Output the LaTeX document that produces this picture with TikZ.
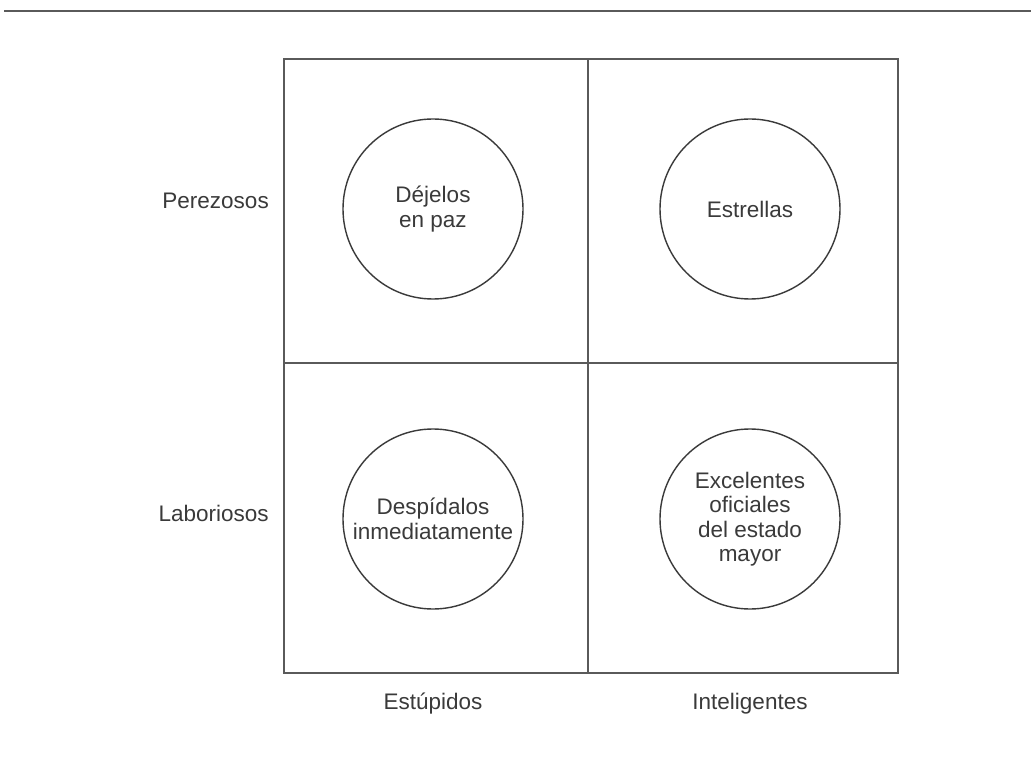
\documentclass[tikz,border=0pt]{standalone}
\usepackage{fontspec}
\setmainfont{Liberation Sans}
\usetikzlibrary{positioning}
\definecolor{ink}{HTML}{3A3A3A}
\definecolor{rulegray}{HTML}{5A5A5A}

\begin{document}
\begin{tikzpicture}[x=1pt,y=-1pt]
\tikzstyle{quad}=[circle,draw=ink,line width=1.4pt,
inner sep=0pt,minimum size=180pt,node distance=310pt,
align=center,text=ink,font=\fontsize{22.5}{24.5}\selectfont]
\tikzstyle{axislbl}=[text=ink,font=\fontsize{22.5}{24.5}\selectfont]
\useasboundingbox (0,0) rectangle (1031,759);
\fill[white] (0,0) rectangle (1031,759);

% top rule
\draw[rulegray,line width=2.2pt] (4,11) -- (1031,11);

% grid
\coordinate (nw) at (284,59);
\coordinate (se) at (898,673);
\coordinate (nm) at (588,59);
\coordinate (sm) at (588,673);
\coordinate (wm) at (284,363);
\coordinate (em) at (898,363);
\draw[rulegray,line width=1.8pt] (nw) rectangle (se);
\draw[rulegray,line width=1.8pt] (nm) -- (sm);
\draw[rulegray,line width=1.8pt] (wm) -- (em);

\node[quad] at (433,209) (0) {D\'ejelos\\en paz};
\node[quad,right of =0,xshift=7pt](1) {Estrellas} ;
\node[quad,below of =0,](2) {Desp\'idalos\\inmediatamente} ;
\node[quad,below of =1,](3) {Excelentes\\oficiales\\del estado\\mayor} ;

\node[axislbl,left=70pt of 0,yshift=8pt](p) {Perezosos} ;
\node[axislbl,left=70pt of 2,yshift=6pt](l) {Laboriosos} ;
\node[axislbl,below=80pt of 2](e) {Est\'upidos} ;
\node[axislbl,below=80pt of 3](i) {Inteligentes} ;

\end{tikzpicture}
\end{document}
